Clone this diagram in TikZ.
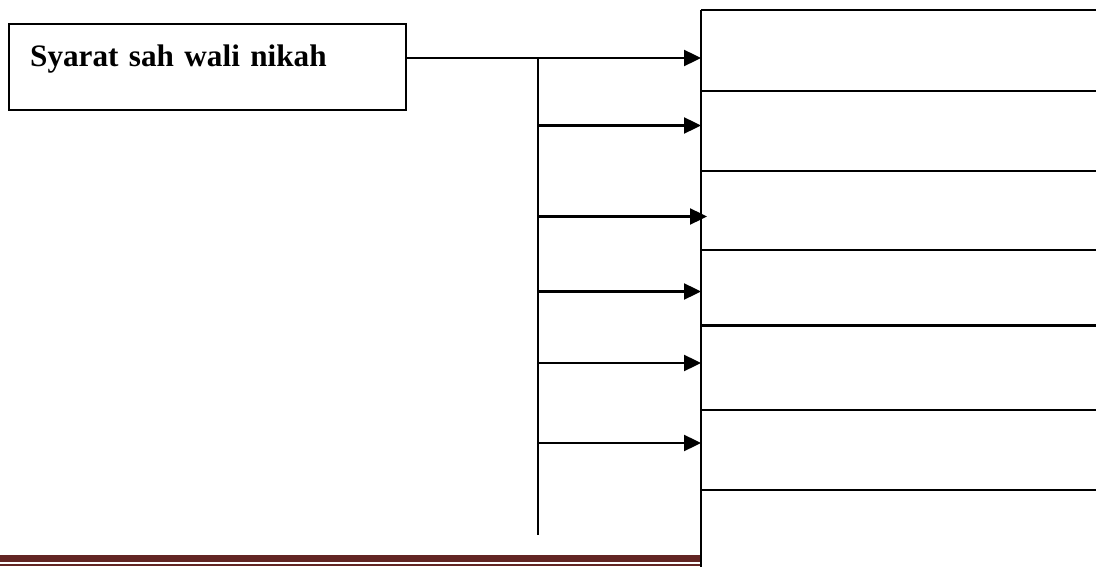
\documentclass[tikz,border=0pt]{standalone}
\usepackage{fontspec}
\setmainfont{Liberation Serif}
\usepackage{tikz}
\usetikzlibrary{calc}
\usetikzlibrary{positioning}
\usetikzlibrary{arrows.meta}
\definecolor{footred}{HTML}{632523}

\begin{document}
\begin{tikzpicture}[x=0.5pt, y=-0.5pt, line width=1.2pt,
        box/.style={rectangle, draw=black, anchor=north west, inner xsep=10.5pt, inner ysep=0pt,
            text width=177.5pt, align=left, text height=21pt, text depth=22pt,
            font=\fontsize{15.6}{19}\selectfont\bfseries},
        arr/.style={-{Triangle[length=8.5pt, width=8pt]}}]
            \useasboundingbox (0, 0) rectangle (1100, 567);
            \node[box] (syarat) at (8, 23) {Syarat sah wali nikah};
            % right column of cells
            \def\Rows{10, 91, 171, 250, 325.5, 410, 490}
            \foreach \y[count=\i from 1] in \Rows
            {
                \draw (701, \y) -- (1096, \y);
            }
            \draw (701, 10) -- (701, 570);
            % arrow targets
            \def\T{701/58, 701/125.5, 707/216.5, 701/291.5, 701/363, 701/443}
            \foreach \x/\y[count=\i from 1] in \T
            {
                \coordinate (c\i) at (\x, \y);
            }
            \coordinate (trunk top) at (538, 58);
            \coordinate (trunk bottom) at (538, 535);
            \draw[arr] (syarat.east |- c1) -- (c1);
            \draw (trunk top) -- (trunk bottom);
            \foreach \i in {2, ..., 6}
            {
                \draw[arr] (trunk top |- c\i) -- (c\i);
            }
            % footer rule
            \fill[footred] (0, 555) rectangle (700, 562.3);
            \fill[footred] (0, 564.3) rectangle (700, 566);
        \end{tikzpicture}
\end{document}
